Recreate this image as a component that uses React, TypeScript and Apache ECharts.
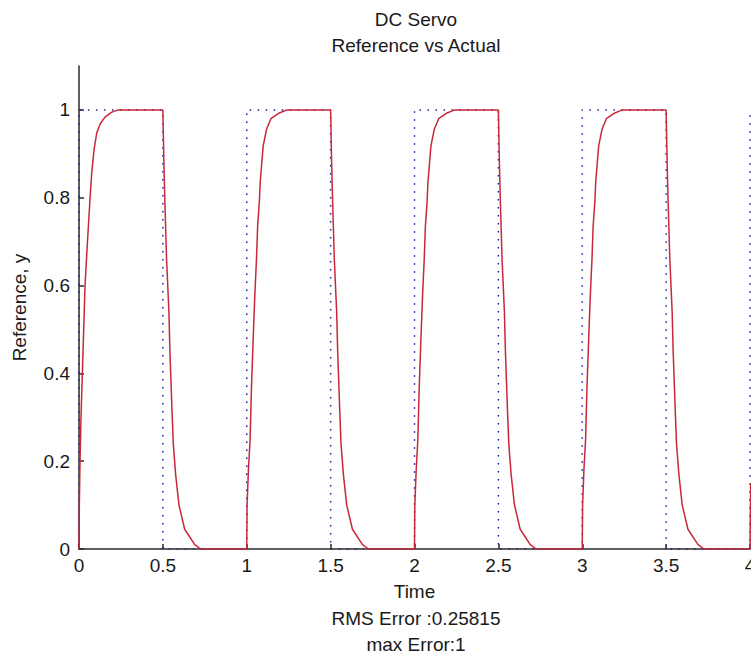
import React, { useEffect, useRef } from "react";
import * as echarts from "echarts";

// Reference square wave (dotted blue)
const refTime = [0, 0, 0.5, 0.5, 1, 1, 1.5, 1.5, 2, 2, 2.5, 2.5, 3, 3, 3.5, 3.5, 4, 4];
const refValue = [0, 1, 1, 0, 0, 1, 1, 0, 0, 1, 1, 0, 0, 1, 1, 0, 0, 1];

// Actual response (red), pulse by pulse
const pulse1: [number, number][] = [
  [0, 0], [0.002, 0.1], [0.006, 0.2], [0.012, 0.3], [0.02, 0.4], [0.028, 0.5], [0.036, 0.6],
  [0.049, 0.69], [0.066, 0.8], [0.076, 0.857], [0.09, 0.91], [0.106, 0.948], [0.126, 0.968],
  [0.156, 0.984], [0.196, 0.995], [0.234, 1.0], [0.5, 1.0],
  [0.506, 0.88], [0.512, 0.79], [0.522, 0.66], [0.536, 0.54], [0.542, 0.45], [0.554, 0.32],
  [0.562, 0.24], [0.576, 0.17], [0.596, 0.1], [0.63, 0.045], [0.69, 0.01], [0.726, 0.0],
];
const pulse2: [number, number][] = [
  [1.0, 0], [1.002, 0.1], [1.01, 0.18], [1.02, 0.25], [1.028, 0.366], [1.038, 0.475],
  [1.048, 0.577], [1.058, 0.66], [1.065, 0.736], [1.075, 0.79], [1.08, 0.834], [1.088, 0.872],
  [1.098, 0.918], [1.118, 0.956], [1.144, 0.98], [1.194, 0.993], [1.24, 1.0], [1.5, 1.0],
  [1.506, 0.88], [1.512, 0.79], [1.522, 0.66], [1.536, 0.54], [1.542, 0.45], [1.554, 0.32],
  [1.562, 0.24], [1.576, 0.17], [1.596, 0.1], [1.63, 0.045], [1.69, 0.01], [1.726, 0.0],
];
const pulse3: [number, number][] = [
  [2.0, 0], [2.002, 0.1], [2.01, 0.18], [2.02, 0.25], [2.028, 0.366], [2.038, 0.475],
  [2.048, 0.577], [2.058, 0.66], [2.065, 0.736], [2.075, 0.79], [2.08, 0.834], [2.088, 0.872],
  [2.098, 0.918], [2.118, 0.956], [2.144, 0.98], [2.194, 0.993], [2.24, 1.0], [2.5, 1.0],
  [2.506, 0.88], [2.512, 0.79], [2.522, 0.66], [2.536, 0.54], [2.542, 0.45], [2.554, 0.32],
  [2.562, 0.24], [2.576, 0.17], [2.596, 0.1], [2.63, 0.045], [2.69, 0.01], [2.726, 0.0],
];
const pulse4: [number, number][] = [
  [3.0, 0], [3.002, 0.1], [3.01, 0.18], [3.02, 0.25], [3.028, 0.366], [3.038, 0.475],
  [3.048, 0.577], [3.058, 0.66], [3.065, 0.736], [3.075, 0.79], [3.08, 0.834], [3.088, 0.872],
  [3.098, 0.918], [3.118, 0.956], [3.144, 0.98], [3.194, 0.993], [3.24, 1.0], [3.5, 1.0],
  [3.506, 0.88], [3.512, 0.79], [3.522, 0.66], [3.536, 0.54], [3.542, 0.45], [3.554, 0.32],
  [3.562, 0.24], [3.576, 0.17], [3.596, 0.1], [3.63, 0.045], [3.69, 0.01], [3.726, 0.0],
];
const tail: [number, number][] = [[4.0, 0], [4.004, 0.15]];

const yTicks = [0, 0.2, 0.4, 0.6, 0.8, 1];

const FONT = "'Liberation Sans', Arial, sans-serif";
const FS = 19;
const TXT = "#1a1a1a";
const AX = "#2a2a2a";

export default function App() {
  const ref = useRef<HTMLDivElement>(null);
  useEffect(() => {
    document.body.style.margin = "0";
    if (!ref.current) return;
    const chart = echarts.init(ref.current, null, { renderer: "svg" });
    const refData = refTime.map((t, i) => [t, refValue[i]]);
    const actual = [...pulse1, ...pulse2, ...pulse3, ...pulse4, ...tail];
    chart.setOption({
      animation: false,
      backgroundColor: "#ffffff",
      title: [
        {
          text: "DC Servo\nReference vs Actual",
          left: 411,
          top: 1,
          textAlign: "center",
          textStyle: { fontFamily: FONT, fontSize: FS, fontWeight: "normal", color: TXT, lineHeight: 26 },
        },
        {
          text: "RMS Error :0.25815\nmax Error:1",
          left: 411,
          top: 600,
          textAlign: "center",
          textStyle: { fontFamily: FONT, fontSize: FS, fontWeight: "normal", color: TXT, lineHeight: 26 },
        },
      ],
      grid: { left: 79, right: 1, top: 66, bottom: 106, containLabel: false, outerBoundsMode: "none" },
      xAxis: {
        type: "value",
        min: 0,
        max: 4,
        interval: 0.5,
        name: "Time",
        nameLocation: "middle",
        nameGap: 33,
        nameTextStyle: { fontFamily: FONT, fontSize: FS, color: TXT },
        axisLine: { show: true, lineStyle: { color: AX, width: 1.5 } },
        axisTick: { show: true, inside: true, length: 5, lineStyle: { color: AX, width: 1.5 } },
        axisLabel: { fontFamily: FONT, fontSize: FS, color: TXT, margin: 7, showMaxLabel: true },
        splitLine: { show: false },
      },
      yAxis: {
        type: "value",
        min: 0,
        max: 1.1,
        name: "Reference, y",
        nameLocation: "middle",
        nameRotate: 90,
        nameGap: 50,
        nameTextStyle: { fontFamily: FONT, fontSize: FS, color: TXT },
        axisLine: { show: true, lineStyle: { color: AX, width: 1.5 } },
        axisTick: { show: true, inside: true, length: 5, customValues: yTicks, lineStyle: { color: AX, width: 1.5 } },
        axisLabel: { fontFamily: FONT, fontSize: FS, color: TXT, margin: 9, customValues: yTicks },
        splitLine: { show: false },
      },
      series: [
        {
          type: "line",
          data: refData,
          showSymbol: false,
          symbol: "none",
          lineStyle: { color: "#1c1c9a", width: 1.5, type: [1.5, 6.5] },
          z: 2,
        },
        {
          type: "line",
          data: actual,
          showSymbol: false,
          symbol: "none",
          lineStyle: { color: "#c8283a", width: 1.5 },
          z: 3,
        },
      ],
    });
    return () => chart.dispose();
  }, []);
  return <div ref={ref} style={{ width: 751, height: 655 }} />;
}
